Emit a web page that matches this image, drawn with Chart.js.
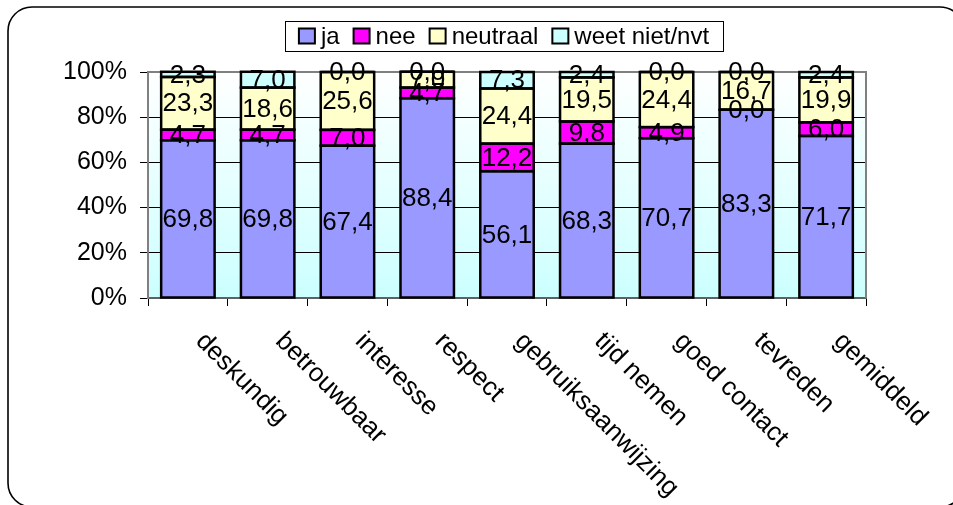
<!DOCTYPE html>
<html>
<head>
<meta charset="utf-8">
<script src="https://cdn.jsdelivr.net/npm/chart.js@4/dist/chart.umd.min.js"></script>
<style>
  html, body { margin: 0; padding: 0; background: #fff; }
  #wrap { width: 953px; height: 505px; }
</style>
</head>
<body>
<div id="wrap"><canvas id="c" width="953" height="505"></canvas></div>
<script>
// Survey answers per aspect, in percent
const categories = ['deskundig', 'betrouwbaar', 'interesse', 'respect', 'gebruiksaanwijzing',
                    'tijd nemen', 'goed contact', 'tevreden', 'gemiddeld'];
const seriesNames = ['ja', 'nee', 'neutraal', 'weet niet/nvt'];
const ja       = [69.8, 69.8, 67.4, 88.4, 56.1, 68.3, 70.7, 83.3, 71.7];
const nee      = [4.7, 4.7, 7.0, 4.7, 12.2, 9.8, 4.9, 0.0, 6.0];
const neutraal = [23.3, 18.6, 25.6, 7.0, 24.4, 19.5, 24.4, 16.7, 19.9];
const weetNiet = [2.3, 7.0, 0.0, 0.0, 7.3, 2.4, 0.0, 0.0, 2.4];
const yTicks   = [0, 20, 40, 60, 80, 100];

const seriesColors = ['#9999FF', '#FF00FF', '#FFFFCC', '#CCFFFF'];
const FONT = '"Liberation Sans", Arial, sans-serif';

const fmt = v => v.toFixed(1).replace('.', ',');

// Frame, plot background and plot border
const framePlugin = {
  id: 'frame',
  beforeDraw(chart) {
    const ctx = chart.ctx;
    const a = chart.chartArea;
    ctx.save();
    ctx.fillStyle = '#fff';
    ctx.fillRect(0, 0, chart.width, chart.height);
    const g = ctx.createLinearGradient(0, a.top, 0, a.bottom);
    g.addColorStop(0, '#FFFFFF');
    g.addColorStop(1, '#CCFFFF');
    ctx.fillStyle = g;
    ctx.fillRect(a.left, a.top, a.right - a.left, a.bottom - a.top);
    ctx.restore();
  },
  afterDatasetsDraw(chart) {
    const ctx = chart.ctx;
    const a = chart.chartArea;
    ctx.save();
    ctx.strokeStyle = '#808080';
    ctx.lineWidth = 2;
    ctx.beginPath();
    ctx.moveTo(a.left, a.top);
    ctx.lineTo(a.right, a.top);
    ctx.lineTo(a.right, a.bottom);
    ctx.stroke();
    ctx.restore();
  },
  afterDraw(chart) {
    const ctx = chart.ctx;
    ctx.save();
    ctx.strokeStyle = '#000';
    ctx.lineWidth = 1.6;
    ctx.beginPath();
    ctx.roundRect(8, 7, 956, 500, 24);
    ctx.stroke();
    ctx.restore();
  }
};

// Segment outlines (centred on the edges) and value labels
const valueLabels = {
  id: 'valueLabels',
  afterDatasetsDraw(chart) {
    const ctx = chart.ctx;
    ctx.save();
    ctx.strokeStyle = '#000';
    ctx.lineWidth = 2.5;
    chart.data.datasets.forEach((ds, i) => {
      chart.getDatasetMeta(i).data.forEach(el => {
        const p = el.getProps(['x', 'y', 'base', 'width'], true);
        const top = Math.min(p.y, p.base), h = Math.abs(p.base - p.y);
        ctx.strokeRect(p.x - p.width / 2, top, p.width, h);
      });
    });
    ctx.font = '26px ' + FONT;
    ctx.fillStyle = '#000';
    ctx.textAlign = 'center';
    ctx.textBaseline = 'middle';
    chart.data.datasets.forEach((ds, i) => {
      const meta = chart.getDatasetMeta(i);
      meta.data.forEach((el, j) => {
        const p = el.getProps(['x', 'y', 'base'], true);
        ctx.fillText(fmt(ds.data[j]), p.x, (p.y + p.base) / 2 + 1);
      });
    });
    ctx.restore();
  }
};

// Slanted category names below the axis
const slantedLabels = {
  id: 'slantedLabels',
  afterDraw(chart) {
    const ctx = chart.ctx;
    const xs = chart.scales.x;
    ctx.save();
    ctx.font = '26px ' + FONT;
    ctx.fillStyle = '#000';
    ctx.textAlign = 'left';
    ctx.textBaseline = 'top';
    categories.forEach((c, i) => {
      const cx = xs.getPixelForValue(i);
      ctx.save();
      ctx.translate(cx + 21, chart.chartArea.bottom + 30);
      ctx.rotate(Math.PI / 4);
      ctx.fillText(c, 0, 0);
      ctx.restore();
    });
    ctx.restore();
  }
};

// Boxed legend at the top
const boxLegend = {
  id: 'boxLegend',
  afterDraw(chart) {
    const ctx = chart.ctx;
    ctx.save();
    ctx.font = '24px ' + FONT;
    const sw = 16, sh = 15, gapIn = 6, gapOut = 14;
    const widths = chart.data.datasets.map(d => ctx.measureText(d.label).width);
    const total = widths.reduce((s, w) => s + sw + gapIn + w, 0) + gapOut * (widths.length - 1);
    const boxL = 285, boxR = 723, boxT = 21, boxB = 51;
    ctx.fillStyle = '#fff';
    ctx.fillRect(boxL, boxT, boxR - boxL, boxB - boxT);
    ctx.strokeStyle = '#000';
    ctx.lineWidth = 1;
    ctx.strokeRect(boxL + 0.5, boxT + 0.5, boxR - boxL, boxB - boxT);
    let x = (boxL + boxR) / 2 - total / 2;
    const cy = (boxT + boxB) / 2;
    chart.data.datasets.forEach((d, i) => {
      ctx.fillStyle = d.backgroundColor;
      ctx.fillRect(x, cy - sh / 2, sw, sh);
      ctx.strokeStyle = '#000';
      ctx.lineWidth = 2;
      ctx.strokeRect(x, cy - sh / 2, sw, sh);
      ctx.fillStyle = '#000';
      ctx.textAlign = 'left';
      ctx.textBaseline = 'middle';
      ctx.fillText(d.label, x + sw + gapIn, cy + 1);
      x += sw + gapIn + widths[i] + gapOut;
    });
    ctx.restore();
  }
};

const seriesData = [ja, nee, neutraal, weetNiet];

new Chart(document.getElementById('c'), {
  type: 'bar',
  data: {
    labels: categories,
    datasets: seriesData.map((d, i) => ({
      label: seriesNames[i],
      data: d,
      backgroundColor: seriesColors[i],
      borderWidth: 0,
      categoryPercentage: 1,
      barPercentage: 0.67
    }))
  },
  options: {
    responsive: false,
    animation: false,
    devicePixelRatio: 1,
    layout: { padding: { left: 0, top: 72, right: 87, bottom: 0 } },
    plugins: { legend: { display: false }, tooltip: { enabled: false } },
    scales: {
      x: {
        stacked: true,
        offset: true,
        ticks: { display: false },
        grid: { display: true, drawOnChartArea: false, drawTicks: true, tickLength: 8, color: '#000', offset: true },
        border: { display: true, color: '#606060', width: 2 },
        afterFit: s => { s.height = 207; }
      },
      y: {
        stacked: true,
        min: 0,
        max: 100,
        afterBuildTicks: s => { s.ticks = yTicks.map(v => ({ value: v })); },
        ticks: {
          callback: v => v + '%',
          color: '#000',
          padding: 13,
          font: { family: FONT, size: 25 }
        },
        grid: { color: '#000', lineWidth: 1, tickLength: 8, drawTicks: true },
        border: { display: true, color: '#808080', width: 2 },
        afterFit: s => { s.width = 148; }
      }
    }
  },
  plugins: [framePlugin, valueLabels, slantedLabels, boxLegend]
});
</script>
</body>
</html>
